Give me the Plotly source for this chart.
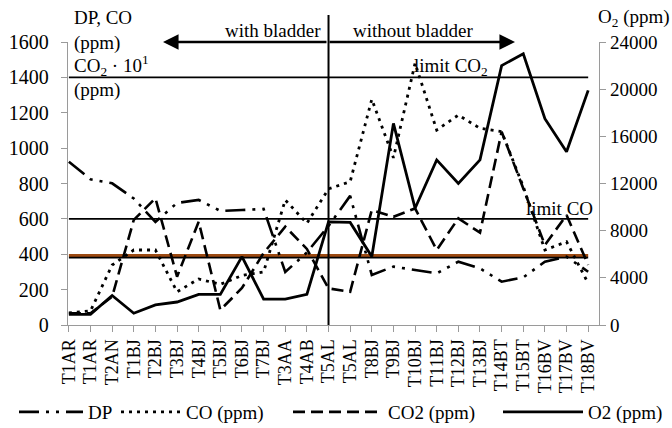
import plotly.graph_objects as go

categories = ["T1AR", "T1AR", "T2AN", "T1BJ", "T2BJ", "T3BJ", "T4BJ", "T5BJ", "T6BJ", "T7BJ",
              "T3AA", "T4AB", "T5AL", "T5AL", "T8BJ", "T9BJ", "T10BJ", "T11BJ", "T12BJ", "T13BJ",
              "T14BT", "T15BT", "T16BV", "T17BV", "T18BV"]
dp = [923, 824, 801, 715, 583, 690, 707, 645, 650, 656, 300, 410, 560, 730, 283,
      330, 311, 292, 358, 320, 245, 269, 358, 386, 301]
co = [68, 80, 339, 424, 424, 188, 260, 230, 280, 300, 707, 575, 770, 810, 1276,
      945, 1480, 1102, 1187, 1112, 1093, 782, 424, 471, 236]
co2 = [66, 66, 160, 594, 717, 273, 584, 85, 209, 407, 556, 430, 207, 188, 650,
       612, 659, 424, 603, 522, 1093, 770, 452, 622, 340]
o2 = [900, 900, 2500, 1000, 1700, 1950, 2600, 2600, 5800, 2200, 2200, 2600, 8750, 8700, 5800,
      17100, 9900, 14000, 12000, 14000, 22000, 23000, 17500, 14700, 19900]
left_ticks = list(range(0, 1601, 200))
right_ticks = list(range(0, 24001, 4000))
limit_co2 = 1400
limit_co = 600
ref_brown = 393
ref_black = 381
split_index = 12

FONT = "Liberation Serif"
AX = "#9a9a9a"
x = list(range(len(categories)))
n = len(categories)

fig = go.Figure()

for val, col, w in [(limit_co2, "black", 1.6), (limit_co, "black", 1.6),
                    (ref_brown, "#9c4a12", 3), (ref_black, "black", 1.6)]:
    fig.add_trace(go.Scatter(x=[0, n - 1], y=[val, val], mode="lines",
                             line=dict(color=col, width=w), showlegend=False, hoverinfo="skip"))

fig.add_trace(go.Scatter(x=x, y=dp, name="DP", mode="lines", legend="legend",
                         line=dict(color="black", width=2.6, dash="20px,7px,3px,7px,3px,7px")))
fig.add_trace(go.Scatter(x=x, y=co, name="CO (ppm)", mode="lines", legend="legend2",
                         line=dict(color="black", width=2.8, dash="3px,5px")))
fig.add_trace(go.Scatter(x=x, y=co2, name="CO2 (ppm)", mode="lines", legend="legend3",
                         line=dict(color="black", width=2.6, dash="12px,6px")))
fig.add_trace(go.Scatter(x=x, y=o2, name="O2 (ppm)", mode="lines", yaxis="y2", legend="legend4",
                         line=dict(color="black", width=2.8)))

fig.add_shape(type="line", xref="x", yref="paper", x0=split_index, x1=split_index,
              y0=0, y1=1.095, line=dict(color="black", width=2))

ann = []
tf = dict(family=FONT, size=19, color="black")
ann.append(dict(x=4.35, y=1.0, xref="x", yref="paper", ax=165, ay=0, text="",
                showarrow=True, arrowhead=2, arrowsize=1.3, arrowwidth=2.4, arrowcolor="black"))
ann.append(dict(x=20.62, y=1.0, xref="x", yref="paper", ax=-187, ay=0, text="",
                showarrow=True, arrowhead=2, arrowsize=1.3, arrowwidth=2.4, arrowcolor="black"))
ann.append(dict(x=(273 - 68) / 531, y=(325 - 31) / 283, xref="paper", yref="paper", text="with bladder",
                showarrow=False, font=tf, yanchor="middle"))
ann.append(dict(x=(413 - 68) / 531, y=(325 - 31) / 283, xref="paper", yref="paper", text="without bladder",
                showarrow=False, font=tf, yanchor="middle"))
for txt, yy in [("DP, CO", 17), ("(ppm)", 43), ("CO<sub>2</sub> · 10<sup>1</sup>", 65), ("(ppm)", 90)]:
    ann.append(dict(x=(72 - 68) / 531, y=(325 - yy) / 283, xref="paper", yref="paper", text=txt,
                    xanchor="left", yanchor="middle", showarrow=False, font=tf))
ann.append(dict(x=(596 - 68) / 531, y=(325 - 18) / 283, xref="paper", yref="paper",
                text="O<sub>2</sub> (ppm)", xanchor="left", yanchor="middle", showarrow=False, font=tf))
ann.append(dict(x=15.85, y=1458, xref="x", yref="y", text="limit CO<sub>2</sub>",
                xanchor="left", yanchor="middle", showarrow=False, font=tf))
ann.append(dict(x=21.05, y=661, xref="x", yref="y", text="limit CO",
                xanchor="left", yanchor="middle", showarrow=False, font=tf))


def leg(px, iw):
    return dict(orientation="h", x=px / 672, xanchor="left", xref="container",
                y=(428 - 412) / 428, yref="container", yanchor="middle",
                font=dict(family=FONT, size=19, color="black"), itemwidth=iw,
                bgcolor="rgba(0,0,0,0)", borderwidth=0)


fig.update_layout(
    width=672, height=428,
    margin=dict(l=68, r=73, t=42, b=103, autoexpand=False),
    paper_bgcolor="white", plot_bgcolor="white",
    font=dict(family=FONT, size=18, color="black"),
    showlegend=True,
    legend=leg(14, 64),
    legend2=leg(116, 60),
    legend3=leg(288, 90),
    legend4=leg(498, 80),
    xaxis=dict(range=[-0.04, 24.5], tickmode="array", tickvals=x, ticktext=categories,
               tickangle=-90, showgrid=False, zeroline=False, showline=True, linecolor=AX,
               linewidth=1.3, ticks="outside", ticklen=6, tickcolor=AX, automargin=False,
               tickfont=dict(family=FONT, size=18)),
    yaxis=dict(range=[0, 1600], tickmode="array", tickvals=left_ticks,
               ticktext=[str(v) for v in left_ticks], showgrid=False, automargin=False,
               zeroline=False, showline=True, linecolor=AX, linewidth=1.3, ticks="outside",
               ticklen=6, tickcolor=AX, ticklabelstandoff=8, tickfont=dict(family=FONT, size=20)),
    yaxis2=dict(range=[0, 24000], tickmode="array", tickvals=right_ticks,
                ticktext=[str(v) for v in right_ticks], overlaying="y", automargin=False,
                side="right", showgrid=False, zeroline=False, showline=True, linecolor=AX,
                linewidth=1.3, ticks="outside", ticklen=6, tickcolor=AX,
                tickfont=dict(family=FONT, size=19)),
    annotations=ann,
)

fig.write_html("out.html")
